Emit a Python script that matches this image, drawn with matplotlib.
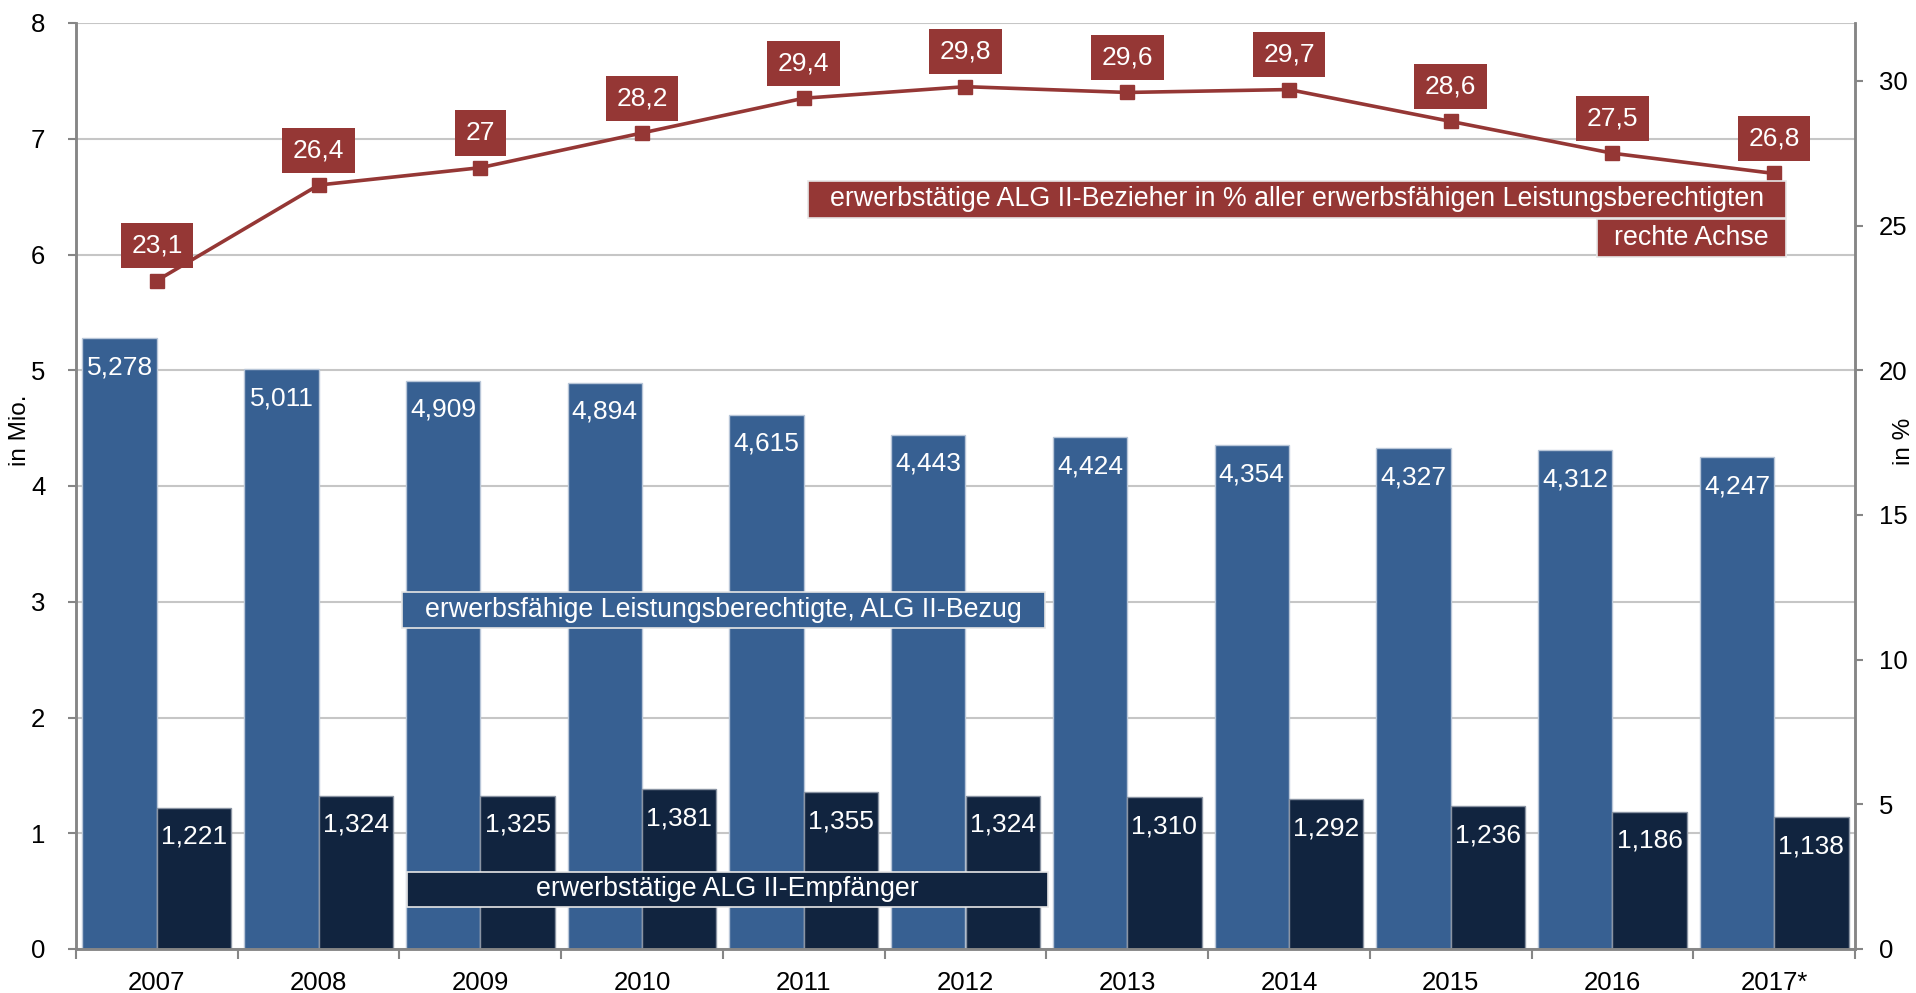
import matplotlib
matplotlib.use("Agg")
import matplotlib.pyplot as plt
import numpy as np
from matplotlib.patches import Rectangle

plt.rcParams['font.family'] = ['Liberation Sans', 'DejaVu Sans']

years = ['2007', '2008', '2009', '2010', '2011', '2012', '2013', '2014', '2015', '2016', '2017*']
elb = [5.278, 5.011, 4.909, 4.894, 4.615, 4.443, 4.424, 4.354, 4.327, 4.312, 4.247]
erwerbstaetig = [1.221, 1.324, 1.325, 1.381, 1.355, 1.324, 1.310, 1.292, 1.236, 1.186, 1.138]
anteil = [23.1, 26.4, 27.0, 28.2, 29.4, 29.8, 29.6, 29.7, 28.6, 27.5, 26.8]

c_light = '#376092'
c_dark = '#11243f'
c_red = '#953735'
c_grid = '#c6c6c6'
c_spine = '#868686'

W, H = 1916, 993
fig = plt.figure(figsize=(W / 100, H / 100), dpi=100)
fig.patch.set_facecolor('white')

# axes box in pixels: x 76..1855, y 23..949
ax = fig.add_axes([76 / W, 1 - 949 / H, (1855 - 76) / W, (949 - 23) / H])
x = np.arange(len(years))
bw = 0.46

ax.bar(x - bw / 2, elb, width=bw, color=c_light, edgecolor='#b8c6d8', linewidth=1, zorder=2)
ax.bar(x + bw / 2, erwerbstaetig, width=bw, color=c_dark, edgecolor='#8a94a3', linewidth=1, zorder=2)

for xi, v in zip(x, elb):
    ax.annotate(f"{v:.3f}".replace('.', ','), (xi - bw / 2, v), xytext=(0, -21),
                textcoords='offset points', ha='center', va='center',
                color='white', fontsize=19, zorder=3)
for xi, v in zip(x, erwerbstaetig):
    ax.annotate(f"{v:.3f}".replace('.', ','), (xi + bw / 2, v), xytext=(0, -21),
                textcoords='offset points', ha='center', va='center',
                color='white', fontsize=19, zorder=3)

ax.set_ylim(0, 8)
ax.set_xlim(-0.5, len(years) - 0.5)
ax.set_yticks(range(0, 9))
ax.yaxis.grid(True, color=c_grid, linewidth=1.5, zorder=0)
ax.set_axisbelow(True)
ax.tick_params(axis='y', direction='out', length=6, width=1.5, color=c_spine,
               labelsize=18.5, pad=16)

# category boundaries as ticks, labels at centres
ax.set_xticks(np.arange(-0.5, len(years), 1.0))
ax.set_xticklabels([])
ax.set_xticks(x, minor=True)
ax.set_xticklabels(years, minor=True, fontsize=18.5)
ax.tick_params(axis='x', which='major', direction='out', length=7, width=1.5, color=c_spine)
ax.tick_params(axis='x', which='minor', length=0, pad=16)

for s in ['left', 'bottom', 'right']:
    ax.spines[s].set_color(c_spine)
    ax.spines[s].set_linewidth(1.8)
ax.spines['top'].set_visible(False)

ax2 = ax.twinx()
ax2.set_ylim(0, 32)
ax2.set_yticks([0, 5, 10, 15, 20, 25, 30])
ax2.tick_params(axis='y', direction='out', length=6, width=1.5, color=c_spine,
                labelsize=18.5, pad=11)
for s in ['left', 'bottom', 'right']:
    ax2.spines[s].set_color(c_spine)
    ax2.spines[s].set_linewidth(1.8)
ax2.spines['top'].set_visible(False)

ax2.plot(x, anteil, color=c_red, linewidth=2.6, marker='s', markersize=10.5, zorder=5)
for xi, v in zip(x, anteil):
    ax2.annotate(f"{v:g}".replace('.', ','), (xi, v), xytext=(0, 25),
                 textcoords='offset points', ha='center', va='center',
                 color='white', fontsize=19, zorder=6,
                 bbox=dict(boxstyle='square,pad=0.4', facecolor=c_red, edgecolor='none'))

fig.text(20 / W, 1 - 430 / H, 'in Mio.', rotation=90, ha='center', va='center', fontsize=17.5)
fig.text(1904 / W, 1 - 441 / H, 'in %', rotation=90, ha='center', va='center', fontsize=17.5)


def label_box(x0, y0, x1, y1, text, color):
    # box given in figure pixels (origin top-left)
    rect = Rectangle((x0 / W, 1 - y1 / H), (x1 - x0) / W, (y1 - y0) / H,
                     transform=fig.transFigure, facecolor=color,
                     edgecolor='#e6e6e6', linewidth=1.2, zorder=10)
    fig.patches.append(rect)
    fig.text((x0 + x1) / 2 / W, 1 - (y0 + y1) / 2 / H, text, ha='center', va='center',
             color='white', fontsize=19.3, zorder=11)


label_box(808, 181, 1786, 218,
          'erwerbstätige ALG II-Bezieher in % aller erwerbsfähigen Leistungsberechtigten', c_red)
label_box(1597, 219, 1786, 257, 'rechte Achse', c_red)
label_box(402, 592, 1045, 628, 'erwerbsfähige Leistungsberechtigte, ALG II-Bezug', c_light)
label_box(407, 872, 1048, 907, 'erwerbstätige ALG II-Empfänger', c_dark)

fig.savefig('out.png', dpi=100, facecolor='white')
